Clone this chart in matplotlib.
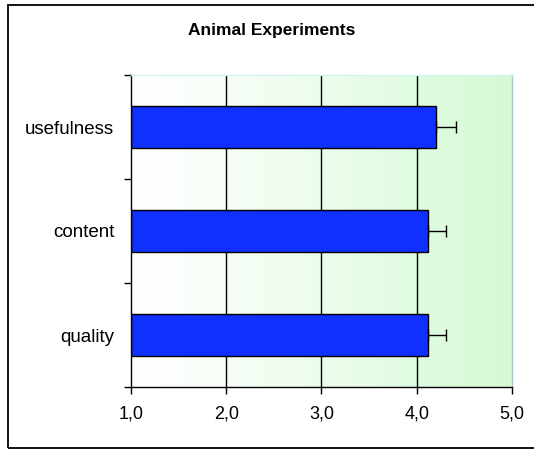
import numpy as np
import matplotlib
matplotlib.use("Agg")
import matplotlib.pyplot as plt
from matplotlib.patches import Rectangle

plt.rcParams['font.family'] = ['Liberation Sans', 'DejaVu Sans']

# Data
categories = ["quality", "content", "usefulness"]
means = [4.12, 4.12, 4.20]
errors = [0.19, 0.19, 0.21]
x_ticks = [1, 2, 3, 4, 5]
x_labels = ["1,0", "2,0", "3,0", "4,0", "5,0"]
title = "Animal Experiments"

W, H = 534, 451
fig = plt.figure(figsize=(W / 100, H / 100), dpi=100)

# outer frame around the chart (right side runs off the picture)
frame = Rectangle((8 / W, 1 - 448 / H), 1.0, 443 / H, transform=fig.transFigure,
                  fill=False, edgecolor="black", linewidth=1.3)
fig.patches.append(frame)

ax = fig.add_axes([131 / W, 1 - 387 / H, 381 / W, 312 / H])
ax.set_xlim(1, 5)
ax.set_ylim(-0.5, len(categories) - 0.5)

# horizontal white -> light green gradient
grad = np.linspace(0, 1, 256).reshape(1, -1) ** 1.2
left_col = np.array([1.0, 1.0, 1.0])
right_col = np.array([0.83, 0.98, 0.83])
img = left_col + (right_col - left_col) * grad[..., None]
ax.imshow(img, extent=[1, 5, -0.5, len(categories) - 0.5], aspect="auto", zorder=0)

for gx in x_ticks[1:-1]:
    ax.axvline(gx, color="black", linewidth=1.0, zorder=1)

y = np.arange(len(categories))
ax.barh(y, np.array(means) - 1, left=1, height=0.4, color="#1030ff",
        edgecolor="black", linewidth=1.0, zorder=2)
ax.errorbar(means, y, xerr=[np.zeros(len(errors)), errors], fmt="none",
            ecolor="black", elinewidth=1.0, capsize=4, capthick=1.0, zorder=3)

ax.set_yticks(y)
ax.set_yticklabels(categories, fontsize=13.5)
ax.set_yticks(np.arange(-0.5, len(categories)), minor=True)
ax.tick_params(axis="y", which="major", length=0, pad=12)
ax.tick_params(axis="y", which="minor", length=5, width=1, direction="out")

ax.set_xticks(x_ticks)
ax.set_xticklabels(x_labels, fontsize=13)
ax.tick_params(axis="x", length=5, width=1, direction="out", pad=8)

ax.spines["left"].set_color("black")
ax.spines["bottom"].set_color("black")
ax.spines["top"].set_color("#d0f4f4")
ax.spines["right"].set_color("#a8c8d0")
for s in ax.spines.values():
    s.set_linewidth(1.0)

fig.text(272 / W, 1 - 31 / H, title, ha="center", va="center",
         fontsize=12.5, fontweight="bold")

fig.savefig("out.png", dpi=100)
